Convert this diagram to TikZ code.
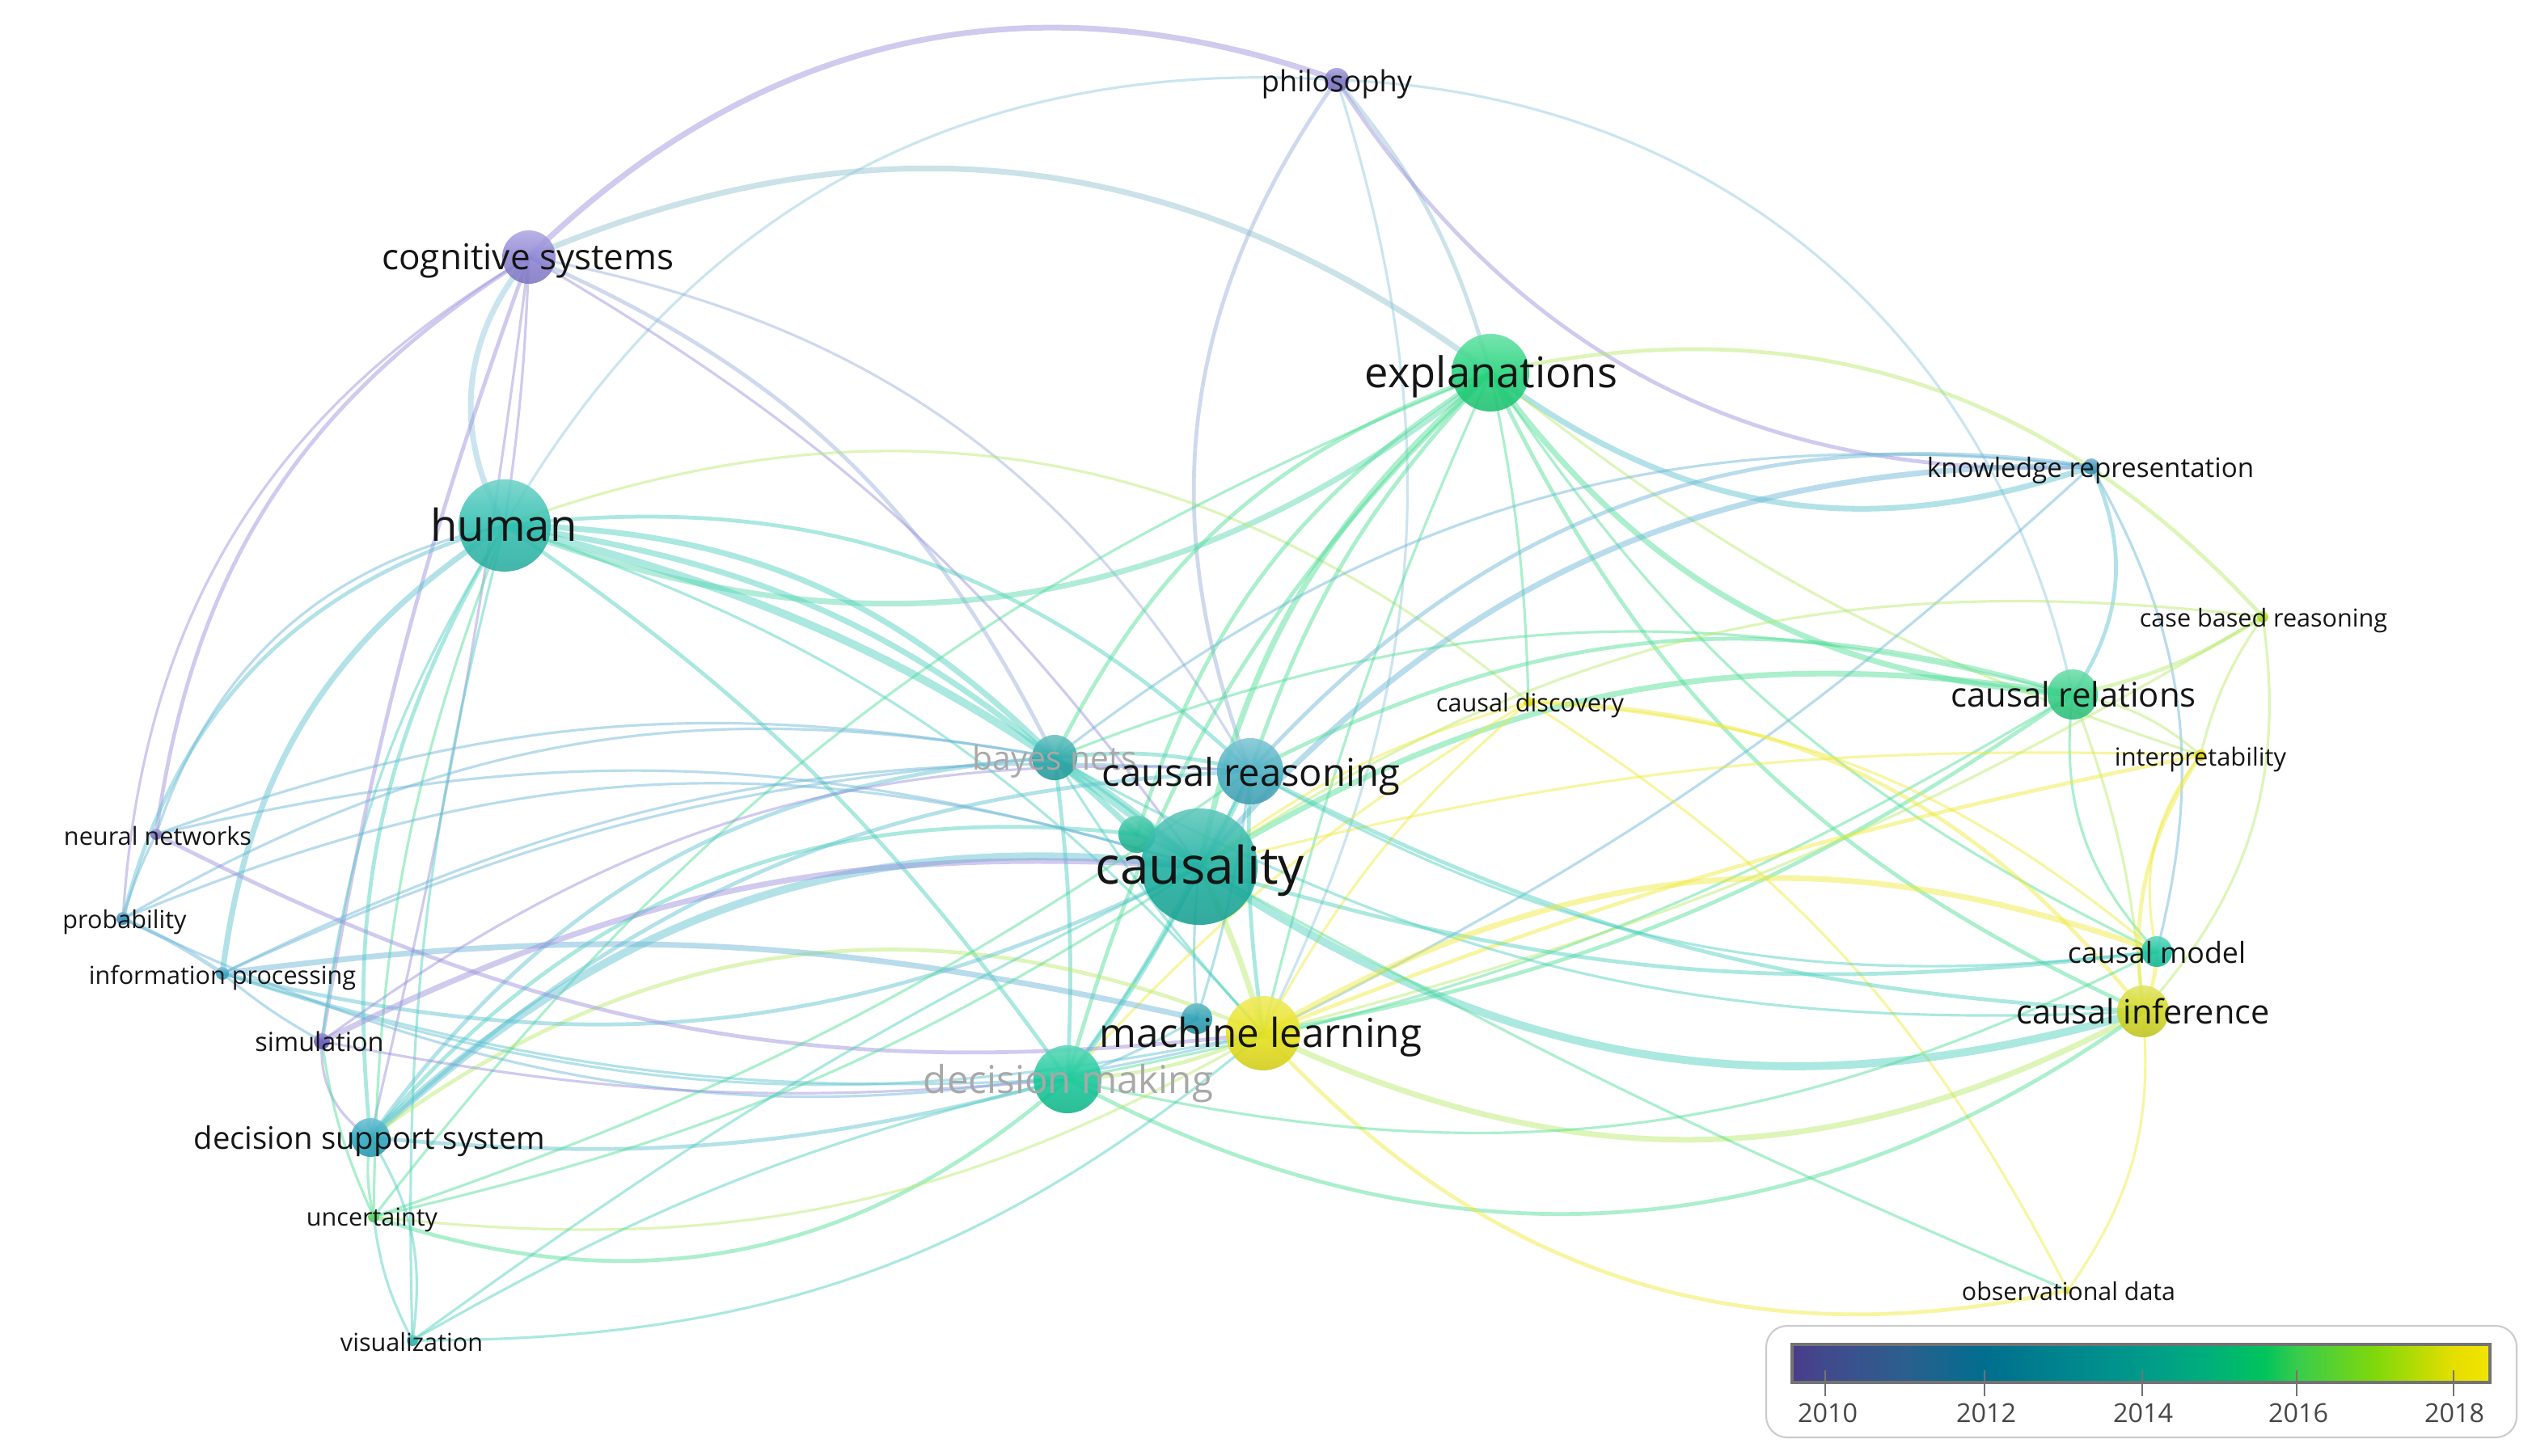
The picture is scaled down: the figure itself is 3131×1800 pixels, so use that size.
\documentclass[tikz,border=0pt]{standalone}
\usepackage{fontspec}
\setmainfont{Open Sans}
\usepackage{graphicx}
\pgfdeclarelayer{bgfill}
\pgfdeclarelayer{edges}
\pgfsetlayers{bgfill,edges,main}
% node colours
\definecolor{nPhil}{HTML}{7F77C6}
\definecolor{nCog}{HTML}{8C84D4}
\definecolor{nExpl}{HTML}{22D47C}
\definecolor{nHuman}{HTML}{30BFB0}
\definecolor{nKnow}{HTML}{3A96BE}
\definecolor{nCbr}{HTML}{B4E030}
\definecolor{nCrel}{HTML}{33CF86}
\definecolor{nCdisc}{HTML}{E4E000}
\definecolor{nInterp}{HTML}{E4D400}
\definecolor{nBayes}{HTML}{2AA8A8}
\definecolor{nCreas}{HTML}{48AEC2}
\definecolor{nCausality}{HTML}{1BB0A0}
\definecolor{nUa}{HTML}{22BC98}
\definecolor{nUb}{HTML}{2A9EB2}
\definecolor{nMl}{HTML}{E8E21A}
\definecolor{nDm}{HTML}{14C898}
\definecolor{nNn}{HTML}{8274C4}
\definecolor{nProb}{HTML}{3A8EBE}
\definecolor{nInfo}{HTML}{3CA4C4}
\definecolor{nSim}{HTML}{6A5EC0}
\definecolor{nDss}{HTML}{2EA6C0}
\definecolor{nUnc}{HTML}{5CCF5C}
\definecolor{nVis}{HTML}{2EB6B4}
\definecolor{nCmodel}{HTML}{18C4A4}
\definecolor{nCinf}{HTML}{D2D822}
\definecolor{nObs}{HTML}{E8E040}
% edge colours
\definecolor{ePur}{HTML}{9A90DC}
\definecolor{eSlate}{HTML}{9AB0DA}
\definecolor{eBlu}{HTML}{6AB6D6}
\definecolor{eBluL}{HTML}{90C8DE}
\definecolor{eTeal}{HTML}{4CCFBE}
\definecolor{eTealB}{HTML}{5CC2D0}
\definecolor{eGrn}{HTML}{4EDD96}
\definecolor{eGrnT}{HTML}{5AD8B0}
\definecolor{eLime}{HTML}{B8EA6A}
\definecolor{eYel}{HTML}{EEEA3A}
\definecolor{eMix}{HTML}{90C2D0}
\definecolor{txt}{HTML}{151515}
\definecolor{txtgrey}{HTML}{A8A8A8}
% legend bar colours
\definecolor{vbA}{HTML}{4A3B8B}
\definecolor{vbB}{HTML}{414A8C}
\definecolor{vbC}{HTML}{2B5F8E}
\definecolor{vbD}{HTML}{006E8E}
\definecolor{vbE}{HTML}{00858E}
\definecolor{vbF}{HTML}{009A8B}
\definecolor{vbG}{HTML}{00B07A}
\definecolor{vbH}{HTML}{00C45C}
\definecolor{vbI}{HTML}{38CC4C}
\definecolor{vbJ}{HTML}{80D80A}
\definecolor{vbK}{HTML}{E6DE00}
\definecolor{vbL}{HTML}{F2E400}
\pgfdeclarehorizontalshading{viridisbar}{100bp}{color(0bp)=(vbA); color(25bp)=(vbA); color(27.4bp)=(vbB); color(33.1bp)=(vbC); color(38.8bp)=(vbD); color(44.5bp)=(vbE); color(50.1bp)=(vbF); color(55bp)=(vbG); color(58.8bp)=(vbH); color(61.2bp)=(vbI); color(66.8bp)=(vbJ); color(72.4bp)=(vbK); color(75bp)=(vbL); color(100bp)=(vbL)}
\newcommand{\sz}[2]{\resizebox{#1}{!}{\vphantom{Ay}#2}}
\tikzset{
  nd/.style 2 args={circle, inner sep=0pt, minimum size=#1, top color=#2!70!white, bottom color=#2!90!black, middle color=#2, fill opacity=0.88, draw=none},
  lbl/.style={inner sep=0pt, text=txt, text opacity=1, yshift=-0.05cm},
  glbl/.style={inner sep=0pt, text=txtgrey, yshift=-0.05cm},
  ed/.style={draw=#1, draw opacity=0.47, line cap=round},
  lwa/.style={line width=0.9pt},
  lwb/.style={line width=1.35pt},
  lwc/.style={line width=2.0pt},
  lwd/.style={line width=2.8pt},
  tick/.style={draw=black!55, line width=0.6pt},
  yr/.style={inner sep=0pt, text=black!72}
}
\begin{document}
\begin{tikzpicture}[x=0.01cm, y=-0.01cm]
\useasboundingbox (0,0) rectangle (3131,1800);
\begin{pgfonlayer}{bgfill}
\fill[white] (0,0) rectangle (3131,1800);
\end{pgfonlayer}
% ---------------- nodes (circles) ----------------
\node[nd={0.30cm}{nPhil}] (phil) at (1653,99) {};
\node[nd={0.66cm}{nCog}] (cog) at (654,318) {};
\node[nd={0.96cm}{nExpl}] (expl) at (1843,461) {};
\node[nd={1.14cm}{nHuman}] (human) at (624,650) {};
\node[nd={0.20cm}{nKnow}] (know) at (2586,577) {};
\node[nd={0.14cm}{nCbr}] (cbr) at (2798,763) {};
\node[nd={0.62cm}{nCrel}] (crel) at (2563,859) {};
\node[nd={0.12cm}{nCdisc}] (cdisc) at (1890,868) {};
\node[nd={0.14cm}{nInterp}] (interp) at (2721,934) {};
\node[nd={0.56cm}{nBayes}] (bayes) at (1304,937) {};
\node[nd={0.82cm}{nCreas}] (creas) at (1546,954) {};
\node[nd={0.46cm}{nUa}] (ua) at (1406,1032) {};
\node[nd={1.44cm}{nCausality}] (causality) at (1483,1072) {};
\node[nd={0.38cm}{nUb}] (ub) at (1480,1260) {};
\node[nd={0.92cm}{nMl}] (ml) at (1562,1278) {};
\node[nd={0.84cm}{nDm}] (dm) at (1320,1335) {};
\node[nd={0.14cm}{nNn}] (nn) at (193,1032) {};
\node[nd={0.16cm}{nProb}] (prob) at (152,1136) {};
\node[nd={0.16cm}{nInfo}] (info) at (275,1204) {};
\node[nd={0.20cm}{nSim}] (sim) at (398,1288) {};
\node[nd={0.48cm}{nDss}] (dss) at (458,1407) {};
\node[nd={0.14cm}{nUnc}] (unc) at (462,1505) {};
\node[nd={0.14cm}{nVis}] (vis) at (510,1658) {};
\node[nd={0.38cm}{nCmodel}] (cmodel) at (2667,1177) {};
\node[nd={0.64cm}{nCinf}] (cinf) at (2650,1251) {};
\node[nd={0.10cm}{nObs}] (obs) at (2557,1596) {};
% ---------------- edges ----------------
\begin{pgfonlayer}{edges}
% cognitive systems / philosophy
\draw[ed=ePur, lwc] (cog.center) to[bend left=32] (phil.center);
\draw[ed=eMix, lwc] (cog.center) to[bend left=30] (expl.center);
\draw[ed=eBluL, lwa] (human.center) to[bend left=32] (phil.center);
\draw[ed=eBluL, lwc] (cog.center) to[bend right=35] (human.center);
\draw[ed=ePur, lwb] (cog.center) to[bend right=25] (nn.center);
\draw[ed=ePur, lwa] (cog.center) to[bend right=28] (prob.center);
\draw[ed=ePur, lwb] (cog.center) to[bend right=5] (sim.center);
\draw[ed=ePur, lwa] (cog.center) to[bend left=3] (dss.center);
\draw[ed=eSlate, lwb] (cog.center) to[bend left=20] (bayes.center);
\draw[ed=ePur, lwa] (cog.center) to[bend left=12] (causality.center);
\draw[ed=eSlate, lwa] (cog.center) to[bend left=25] (creas.center);
\draw[ed=ePur, lwa] (cog.center) to[bend left=3] (human.center);
\draw[ed=eMix, lwb] (phil.center) to[bend left=12] (expl.center);
\draw[ed=eSlate, lwb] (phil.center) to[bend right=28] (creas.center);
\draw[ed=eBluL, lwa] (phil.center) to[bend left=22] (ml.center);
\draw[ed=ePur, lwb] (phil.center) to[bend right=30] (know.center);
\draw[ed=eBluL, lwa] (phil.center) to[bend left=38] (crel.center);
% human
\draw[ed=eTeal, lwd] (human.center) to[bend left=12] (causality.center);
\draw[ed=eTeal, lwc] (human.center) to[bend left=22] (bayes.center);
\draw[ed=eTeal, lwb] (human.center) to[bend left=25] (creas.center);
\draw[ed=eTeal, lwc] (human.center) to[bend left=18] (ua.center);
\draw[ed=eTeal, lwb] (human.center) to[bend left=10] (dm.center);
\draw[ed=eTeal, lwa] (human.center) to[bend left=15] (ml.center);
\draw[ed=eGrnT, lwc] (human.center) to[bend right=30] (expl.center);
\draw[ed=eTealB, lwb] (human.center) to[bend right=30] (prob.center);
\draw[ed=eTealB, lwc] (human.center) to[bend right=25] (info.center);
\draw[ed=eTeal, lwa] (human.center) to[bend right=12] (sim.center);
\draw[ed=eTeal, lwb] (human.center) to[bend right=18] (dss.center);
\draw[ed=eGrn, lwa] (human.center) to[bend right=10] (unc.center);
\draw[ed=eLime, lwa] (human.center) to[bend left=30] (cdisc.center);
\draw[ed=eBlu, lwa] (human.center) to[bend right=30] (nn.center);
\draw[ed=eTeal, lwa] (human.center) to[bend right=8] (vis.center);
% explanations
\draw[ed=eGrn, lwc] (expl.center) to[bend right=18] (causality.center);
\draw[ed=eGrn, lwb] (expl.center) to[bend right=12] (creas.center);
\draw[ed=eGrn, lwb] (expl.center) to[bend right=22] (bayes.center);
\draw[ed=eGrn, lwb] (expl.center) to[bend right=20] (ua.center);
\draw[ed=eGrn, lwa] (expl.center) to[bend right=5] (ml.center);
\draw[ed=eGrn, lwb] (expl.center) to[bend right=15] (dm.center);
\draw[ed=eGrn, lwc] (expl.center) to[bend right=25] (crel.center);
\draw[ed=eLime, lwb] (expl.center) to[bend left=30] (cbr.center);
\draw[ed=eTealB, lwc] (expl.center) to[bend right=28] (know.center);
\draw[ed=eGrn, lwa] (expl.center) to[bend right=15] (cmodel.center);
\draw[ed=eGrn, lwb] (expl.center) to[bend right=20] (cinf.center);
\draw[ed=eGrn, lwa] (expl.center) to[bend left=5] (cdisc.center);
\draw[ed=eLime, lwa] (expl.center) to[bend right=10] (interp.center);
\draw[ed=eGrn, lwa] (expl.center) to[bend right=15] (unc.center);
% knowledge representation
\draw[ed=eBlu, lwc] (know.center) to[bend right=25] (causality.center);
\draw[ed=eBlu, lwb] (know.center) to[bend right=28] (creas.center);
\draw[ed=eBlu, lwa] (know.center) to[bend right=22] (bayes.center);
\draw[ed=eTealB, lwb] (know.center) to[bend left=30] (crel.center);
\draw[ed=eBlu, lwa] (know.center) to[bend left=22] (cmodel.center);
\draw[ed=eBlu, lwa] (know.center) to[bend left=8] (ml.center);
% causal relations
\draw[ed=eGrn, lwc] (crel.center) to[bend right=20] (causality.center);
\draw[ed=eGrn, lwb] (crel.center) to[bend right=22] (creas.center);
\draw[ed=eGrn, lwa] (crel.center) to[bend right=18] (bayes.center);
\draw[ed=eLime, lwb] (crel.center) to[bend right=10] (cbr.center);
\draw[ed=eGrn, lwa] (crel.center) to[bend right=25] (cmodel.center);
\draw[ed=eGrn, lwb] (crel.center) to[bend left=12] (ml.center);
\draw[ed=eGrn, lwa] (crel.center) to[bend left=10] (dm.center);
\draw[ed=eLime, lwa] (crel.center) to[bend left=15] (interp.center);
\draw[ed=eLime, lwa] (crel.center) to[bend left=8] (cinf.center);
% case based reasoning, interpretability, causal discovery
\draw[ed=eLime, lwa] (cbr.center) to[bend right=20] (causality.center);
\draw[ed=eLime, lwa] (cbr.center) to[bend left=8] (ml.center);
\draw[ed=eLime, lwa] (cbr.center) to[bend left=25] (cinf.center);
\draw[ed=eLime, lwa] (cbr.center) to[bend right=10] (interp.center);
\draw[ed=eYel, lwb] (interp.center) to[bend right=20] (cinf.center);
\draw[ed=eYel, lwb] (interp.center) to[bend right=5] (ml.center);
\draw[ed=eYel, lwa] (interp.center) to[bend right=8] (causality.center);
\draw[ed=eYel, lwa] (interp.center) to[bend right=25] (cmodel.center);
\draw[ed=eYel, lwa] (cdisc.center) to[bend right=10] (ml.center);
\draw[ed=eYel, lwa] (cdisc.center) to[bend right=10] (causality.center);
\draw[ed=eYel, lwb] (cdisc.center) to[bend left=25] (cinf.center);
\draw[ed=eYel, lwa] (cdisc.center) to[bend left=18] (cmodel.center);
\draw[ed=eYel, lwa] (cdisc.center) to[bend left=15] (obs.center);
\draw[ed=eYel, lwa] (cdisc.center) to[bend right=8] (dm.center);
% causal inference / model
\draw[ed=eTeal, lwd] (causality.center) to[bend right=25] (cinf.center);
\draw[ed=eTeal, lwb] (causality.center) to[bend right=12] (cmodel.center);
\draw[ed=eTeal, lwb] (creas.center) to[bend right=12] (cinf.center);
\draw[ed=eTeal, lwa] (creas.center) to[bend right=18] (cmodel.center);
\draw[ed=eTeal, lwa] (bayes.center) to[bend right=16] (cinf.center);
\draw[ed=eYel, lwc] (ml.center) to[bend left=25] (cmodel.center);
\draw[ed=eLime, lwc] (ml.center) to[bend right=27] (cinf.center);
\draw[ed=eGrn, lwb] (dm.center) to[bend right=32] (cinf.center);
\draw[ed=eYel, lwb] (ml.center) to[bend right=30] (obs.center);
\draw[ed=eGrn, lwa] (causality.center) to[bend right=3] (obs.center);
\draw[ed=eYel, lwa] (cinf.center) to[bend left=20] (obs.center);
\draw[ed=eYel, lwb] (cmodel.center) to[bend left=10] (cinf.center);
\draw[ed=eGrn, lwa] (dm.center) to[bend right=20] (cmodel.center);
% central cluster
\draw[ed=eTeal, lwc] (bayes.center) to[bend left=5] (causality.center);
\draw[ed=eTeal, lwc] (creas.center) to[bend left=5] (causality.center);
\draw[ed=eLime, lwc] (causality.center) to[bend left=5] (ml.center);
\draw[ed=eTeal, lwc] (causality.center) to[bend left=5] (dm.center);
\draw[ed=eTeal, lwb] (bayes.center) to[bend left=5] (dm.center);
\draw[ed=eTeal, lwa] (bayes.center) to[bend right=5] (ml.center);
\draw[ed=eTeal, lwb] (creas.center) to[bend right=5] (ml.center);
\draw[ed=eTeal, lwa] (creas.center) to[bend left=5] (dm.center);
\draw[ed=eTeal, lwb] (bayes.center) to[bend left=10] (creas.center);
\draw[ed=eTealB, lwa] (ub.center) to[bend left=5] (causality.center);
\draw[ed=eTealB, lwa] (ub.center) to[bend left=5] (dm.center);
\draw[ed=eTealB, lwa] (ub.center) to[bend right=5] (creas.center);
\draw[ed=eLime, lwb] (ml.center) to[bend left=10] (dm.center);
\draw[ed=eTeal, lwb] (ua.center) to[bend left=5] (causality.center);
% left group
\draw[ed=eTealB, lwd] (dss.center) to[bend left=25] (causality.center);
\draw[ed=eTealB, lwb] (dss.center) to[bend left=25] (bayes.center);
\draw[ed=eTealB, lwb] (dss.center) to[bend left=20] (creas.center);
\draw[ed=eTealB, lwb] (dss.center) to[bend right=10] (dm.center);
\draw[ed=eLime, lwb] (dss.center) to[bend left=30] (ml.center);
\draw[ed=eTeal, lwb] (dss.center) to[bend left=28] (ua.center);
\draw[ed=eTealB, lwb] (info.center) to[bend right=20] (causality.center);
\draw[ed=eTealB, lwa] (info.center) to[bend right=15] (ml.center);
\draw[ed=eTealB, lwa] (info.center) to[bend right=10] (dm.center);
\draw[ed=eBlu, lwa] (info.center) to[bend left=10] (bayes.center);
\draw[ed=eBlu, lwa] (info.center) to[bend left=15] (creas.center);
\draw[ed=eBlu, lwc] (info.center) to[bend left=10] (ub.center);
\draw[ed=eBlu, lwb] (prob.center) to[bend left=5] (info.center);
\draw[ed=eBlu, lwa] (prob.center) to[bend left=20] (causality.center);
\draw[ed=eBlu, lwa] (prob.center) to[bend right=20] (ml.center);
\draw[ed=eBlu, lwa] (prob.center) to[bend left=20] (bayes.center);
\draw[ed=ePur, lwb] (nn.center) to[bend right=17] (ml.center);
\draw[ed=eBlu, lwa] (nn.center) to[bend left=15] (causality.center);
\draw[ed=eBlu, lwa] (nn.center) to[bend right=5] (prob.center);
\draw[ed=eBlu, lwa] (nn.center) to[bend left=15] (bayes.center);
\draw[ed=ePur, lwc] (sim.center) to[bend left=15] (causality.center);
\draw[ed=ePur, lwa] (sim.center) to[bend left=20] (creas.center);
\draw[ed=ePur, lwa] (sim.center) to[bend right=30] (dss.center);
\draw[ed=eGrn, lwa] (sim.center) to[bend right=8] (unc.center);
\draw[ed=eBlu, lwa] (sim.center) to[bend left=5] (info.center);
\draw[ed=ePur, lwa] (sim.center) to[bend right=8] (dm.center);
\draw[ed=eGrn, lwb] (unc.center) to[bend right=30] (dm.center);
\draw[ed=eGrn, lwa] (unc.center) to[bend right=10] (causality.center);
\draw[ed=eGrn, lwa] (unc.center) to[bend right=8] (creas.center);
\draw[ed=eGrn, lwa] (unc.center) to[bend left=10] (dss.center);
\draw[ed=eLime, lwa] (unc.center) to[bend right=18] (ml.center);
\draw[ed=eTeal, lwa] (vis.center) to[bend right=20] (dss.center);
\draw[ed=eTeal, lwa] (vis.center) to[bend left=8] (dm.center);
\draw[ed=eTeal, lwa] (vis.center) to[bend left=5] (causality.center);
\draw[ed=eTeal, lwa] (vis.center) to[bend right=20] (ml.center);
\draw[ed=eTeal, lwa] (vis.center) to[bend left=10] (unc.center);
\end{pgfonlayer}
% ---------------- labels ----------------
\node[glbl] (bayes-t) at (1304,937) {\sz{2.03cm}{bayes nets}};
\node[glbl] (dm-t) at (1321,1335) {\sz{3.58cm}{decision making}};
\node[lbl] (phil-t) at (1653,99) {\sz{1.86cm}{philosophy}};
\node[lbl] (cog-t) at (653,318) {\sz{3.61cm}{cognitive systems}};
\node[lbl] (expl-t) at (1844,461) {\sz{3.12cm}{explanations}};
\node[lbl] (human-t) at (623,650) {\sz{1.81cm}{human}};
\node[lbl] (know-t) at (2585,577) {\sz{4.04cm}{knowledge representation}};
\node[lbl] (cbr-t) at (2799,763) {\sz{3.06cm}{case based reasoning}};
\node[lbl] (crel-t) at (2564,859) {\sz{3.03cm}{causal relations}};
\node[lbl] (cdisc-t) at (1892,868) {\sz{2.32cm}{causal discovery}};
\node[lbl] (interp-t) at (2721,934) {\sz{2.12cm}{interpretability}};
\node[lbl] (creas-t) at (1547,955) {\sz{3.68cm}{causal reasoning}};
\node[lbl] (causality-t) at (1484,1072) {\sz{2.58cm}{causality}};
\node[lbl] (ml-t) at (1559,1278) {\sz{3.98cm}{machine learning}};
\node[lbl] (nn-t) at (195,1033) {\sz{2.32cm}{neural networks}};
\node[lbl] (prob-t) at (154,1136) {\sz{1.53cm}{probability}};
\node[lbl] (info-t) at (275,1204) {\sz{3.30cm}{information processing}};
\node[lbl] (sim-t) at (395,1287) {\sz{1.59cm}{simulation}};
\node[lbl] (dss-t) at (457,1407) {\sz{4.34cm}{decision support system}};
\node[lbl] (unc-t) at (460,1504) {\sz{1.62cm}{uncertainty}};
\node[lbl] (vis-t) at (509,1659) {\sz{1.76cm}{visualization}};
\node[lbl] (cmodel-t) at (2667,1177) {\sz{2.20cm}{causal model}};
\node[lbl] (cinf-t) at (2650,1251) {\sz{3.13cm}{causal inference}};
\node[lbl] (obs-t) at (2558,1596) {\sz{2.64cm}{observational data}};
% ---------------- legend ----------------
\draw[draw=black!20, line width=0.6pt, rounded corners=0.26cm, fill=white] (2184,1640) rectangle (3112,1778);
\shade[shading=viridisbar] (2216,1663) rectangle (3079,1710);
\draw[draw=black!55, line width=0.9pt] (2216,1663) rectangle (3079,1710);
\draw[tick] (2257,1695) -- (2257,1727);
\draw[tick] (2454,1695) -- (2454,1727);
\draw[tick] (2649,1695) -- (2649,1727);
\draw[tick] (2840,1695) -- (2840,1727);
\draw[tick] (3034,1695) -- (3034,1727);
\node[yr] (y2010) at (2260,1752) {\sz{0.74cm}{2010}};
\node[yr] (y2012) at (2456,1752) {\sz{0.74cm}{2012}};
\node[yr] (y2014) at (2650,1752) {\sz{0.74cm}{2014}};
\node[yr] (y2016) at (2842,1752) {\sz{0.74cm}{2016}};
\node[yr] (y2018) at (3035,1752) {\sz{0.74cm}{2018}};
\end{tikzpicture}
\end{document}
